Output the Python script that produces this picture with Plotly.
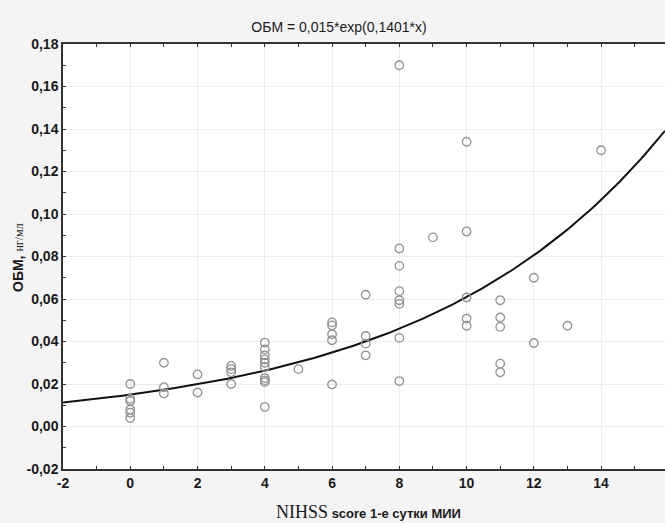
import numpy as np
import plotly.graph_objects as go

# NIHSS score (x) and ОБМ, нг/мл (y)
nihss = [0, 0, 0, 0, 0, 0,
         1, 1, 1,
         2, 2,
         3, 3, 3, 3,
         4, 4, 4, 4, 4, 4, 4, 4, 4, 4,
         5,
         6, 6, 6, 6, 6,
         7, 7, 7, 7,
         8, 8, 8, 8, 8, 8, 8, 8,
         9,
         10, 10, 10, 10, 10,
         11, 11, 11, 11, 11,
         12, 12,
         13,
         14]
obm = [0.020, 0.013, 0.012, 0.008, 0.0065, 0.004,
       0.030, 0.0185, 0.0155,
       0.0245, 0.016,
       0.0285, 0.027, 0.0255, 0.020,
       0.0395, 0.0363, 0.0335, 0.0316, 0.030, 0.028, 0.0228, 0.0217, 0.0209, 0.0092,
       0.027,
       0.049, 0.0476, 0.0434, 0.0406, 0.0198,
       0.062, 0.0426, 0.039, 0.0335,
       0.170, 0.0838, 0.0756, 0.0637, 0.0594, 0.0577, 0.0417, 0.0214,
       0.089,
       0.134, 0.0918, 0.0607, 0.0508, 0.0474,
       0.0594, 0.0513, 0.0469, 0.0296, 0.0255,
       0.070, 0.0393,
       0.0474,
       0.130]

# fitted model from title: ОБМ = 0,015*exp(0,1401*x)
coef_a = 0.015
coef_b = 0.1401

x_ticks = [-2, 0, 2, 4, 6, 8, 10, 12, 14, 16]
y_ticks = [-0.02, 0.00, 0.02, 0.04, 0.06, 0.08, 0.10, 0.12, 0.14, 0.16, 0.18]

x_range = [-2, 15.9]
y_range = [-0.02, 0.18]

xs = np.linspace(x_range[0], x_range[1], 200)
ys = coef_a * np.exp(coef_b * xs)

W, H = 665, 523
L, T, B = 63, 44, 469   # plot area edges in pixels

fig = go.Figure()
fig.add_trace(go.Scatter(
    x=xs, y=ys, mode="lines",
    line=dict(color="#111111", width=2),
    hoverinfo="skip", showlegend=False))
fig.add_trace(go.Scatter(
    x=nihss, y=obm, mode="markers",
    marker=dict(symbol="circle-open", size=8.5, color="#939393",
                line=dict(width=1.3, color="#939393")),
    showlegend=False))

tickfont = dict(family="Liberation Sans, Arial", size=14, color="#1a1a1a", weight="bold")

fig.update_layout(
    width=W, height=H,
    margin=dict(l=L, r=0, t=T, b=H - B),
    paper_bgcolor="#f4f4f4",
    plot_bgcolor="#ffffff",
    showlegend=False,
    title=dict(text="ОБМ = 0,015*exp(0,1401*x)", x=339 / W, xanchor="center",
               y=1 - 27 / H, yanchor="middle",
               font=dict(family="Liberation Sans, Arial", size=14, color="#1a1a1a")),
)

fig.update_xaxes(
    range=x_range, tickvals=x_ticks, ticktext=[str(v) for v in x_ticks],
    showgrid=True, gridcolor="#ececec", gridwidth=1,
    zeroline=False, showline=True, linecolor="#333333", linewidth=1.5,
    mirror="allticks", ticks="inside", ticklen=3, tickcolor="#333333",
    minor=dict(dtick=1, tick0=0, ticks="inside", ticklen=3, tickcolor="#333333", showgrid=False),
    tickfont=tickfont,
)
fig.update_yaxes(
    range=y_range, tickvals=y_ticks,
    ticktext=[("%.2f" % v).replace(".", ",") for v in y_ticks],
    showgrid=True, gridcolor="#ececec", gridwidth=1,
    zeroline=False, showline=True, linecolor="#333333", linewidth=1.5,
    mirror=False, ticks="inside", ticklen=3, tickcolor="#333333",
    minor=dict(dtick=0.01, tick0=0, ticks="inside", ticklen=3, tickcolor="#333333", showgrid=False),
    tickfont=tickfont,
)

pw = W - L
ph = B - T
fig.add_annotation(
    xref="paper", yref="paper",
    x=(368 - L) / pw, y=-(512 - B) / ph,
    xanchor="center", yanchor="middle", showarrow=False,
    text='<span style="font-family:Liberation Serif, Times New Roman;font-size:18px">NIHSS</span>'
         ' <b>score 1-е сутки МИИ</b>',
    font=dict(family="Liberation Sans, Arial", size=13, color="#1a1a1a"),
)
fig.add_annotation(
    xref="paper", yref="paper",
    x=-(L - 18) / pw, y=(B - 258) / ph,
    xanchor="center", yanchor="middle", showarrow=False, textangle=-90,
    text='<b>ОБМ,</b> <span style="font-family:Liberation Serif, Times New Roman;font-size:12px">нг/мл</span>',
    font=dict(family="Liberation Sans, Arial", size=14, color="#1a1a1a"),
)

fig.write_html("out.html", config={"displayModeBar": False},
               post_script="document.body.style.margin='0';document.body.style.background='#f4f4f4';")
